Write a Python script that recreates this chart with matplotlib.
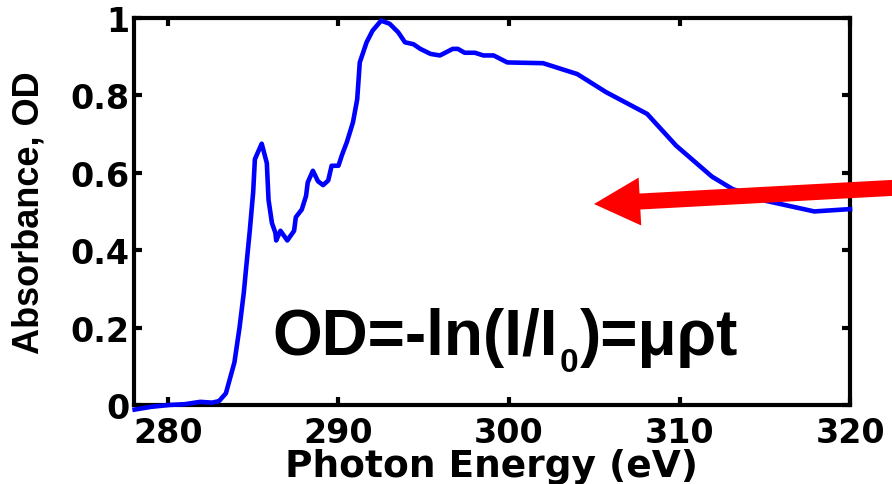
import matplotlib
matplotlib.use('Agg')
import matplotlib.pyplot as plt
from matplotlib import font_manager
from matplotlib.patches import FancyArrow
import numpy as np

# C 1s absorption spectrum
energy = [278.05, 279.0, 280.1, 281.0, 281.9, 282.6, 283.0, 283.4, 283.9, 284.2,
          284.45, 284.6, 284.8, 285.0, 285.1, 285.5, 285.8, 285.9, 286.1, 286.3,
          286.35, 286.6, 287.0, 287.4, 287.5, 287.85, 288.1, 288.2, 288.5, 288.8,
          289.1, 289.4, 289.6, 290.0, 290.2, 290.5, 290.85, 291.1, 291.25, 291.65,
          292.0, 292.5, 293.0, 293.5, 293.9, 294.4, 294.8, 295.4, 295.95, 296.7,
          297.0, 297.4, 298.0, 298.5, 299.1, 299.9, 302.0, 304.0, 305.7, 308.1,
          309.8, 311.9, 313.1, 315.1, 317.9, 320.0]
absorbance = [-0.012, -0.005, 0.0, 0.002, 0.008, 0.006, 0.01, 0.03, 0.11, 0.20,
              0.29, 0.36, 0.45, 0.55, 0.635, 0.675, 0.625, 0.53, 0.47, 0.445,
              0.425, 0.45, 0.425, 0.45, 0.485, 0.505, 0.54, 0.575, 0.605, 0.578,
              0.568, 0.58, 0.618, 0.618, 0.645, 0.68, 0.73, 0.79, 0.885, 0.937,
              0.967, 0.993, 0.985, 0.963, 0.937, 0.932, 0.92, 0.907, 0.903, 0.92,
              0.92, 0.91, 0.91, 0.903, 0.903, 0.885, 0.883, 0.855, 0.808, 0.752,
              0.67, 0.59, 0.558, 0.527, 0.50, 0.506]

x_ticks = [280, 290, 300, 310, 320]
y_ticks = [0, 0.2, 0.4, 0.6, 0.8, 1.0]
y_tick_labels = ['0', '0.2', '0.4', '0.6', '0.8', '1']

# pick a narrow font for the rotated label if there is one
names = set(f.name for f in font_manager.fontManager.ttflist)
if 'Liberation Sans Narrow' in names:
    ylab_font, ylab_size = 'Liberation Sans Narrow', 30
else:
    ylab_font, ylab_size = 'Liberation Sans', 26

fig = plt.figure(figsize=(8.92, 4.85), dpi=100)
ax = fig.add_axes([0.150, 0.163, 0.803, 0.798])

ax.plot(energy, absorbance, color='#0000ff', linewidth=3.3, clip_on=False, zorder=3)

ax.set_xlim(278, 320)
ax.set_ylim(0, 1)
ax.set_xticks(x_ticks)
ax.set_yticks(y_ticks)
ax.set_yticklabels(y_tick_labels)

for s in ax.spines.values():
    s.set_linewidth(3)
ax.tick_params(direction='in', length=6, width=3, top=True, right=True,
               labelsize=24)
ax.tick_params(axis='x', pad=8)
ax.tick_params(axis='y', pad=3)
for lab in ax.get_xticklabels() + ax.get_yticklabels():
    lab.set_fontfamily('DejaVu Sans')
    lab.set_fontweight('bold')

ax.set_xlabel('Photon Energy (eV)', fontsize=27, fontweight='bold',
              family='DejaVu Sans', labelpad=-1)
ax.set_ylabel('Absorbance, OD', fontsize=ylab_size, fontweight='bold',
              family=ylab_font)
ax.yaxis.set_label_coords(-0.122, 0.5)

# equation, built from pieces so the subscript sits right
eq_x, eq_y = 286.15, 0.132
t1 = ax.text(eq_x, eq_y, 'OD=-ln(I/I', fontsize=46, fontweight='bold',
             family='Liberation Sans', va='baseline', ha='left')
t2 = ax.annotate('0', xy=(1, eq_y), xycoords=(t1, 'data'),
                 xytext=(1, -12), textcoords='offset points',
                 fontsize=24, fontweight='bold', family='Liberation Sans',
                 va='baseline', ha='left')
t3 = ax.annotate(')=μρt', xy=(1, eq_y), xycoords=(t2, 'data'),
                 xytext=(1, 0), textcoords='offset points',
                 fontsize=46, fontweight='bold', family='Liberation Sans',
                 va='baseline', ha='left')

# red arrow coming in from the right edge (inches)
tail = (9.0, 2.965)
tip = (5.94, 2.80)
arrow = FancyArrow(tail[0], tail[1], tip[0] - tail[0], tip[1] - tail[1],
                   width=0.16, head_width=0.48, head_length=0.46,
                   length_includes_head=True, color='#ff0000', lw=0,
                   transform=fig.dpi_scale_trans, zorder=5)
fig.add_artist(arrow)

fig.savefig('out.png', dpi=100, facecolor='white')
